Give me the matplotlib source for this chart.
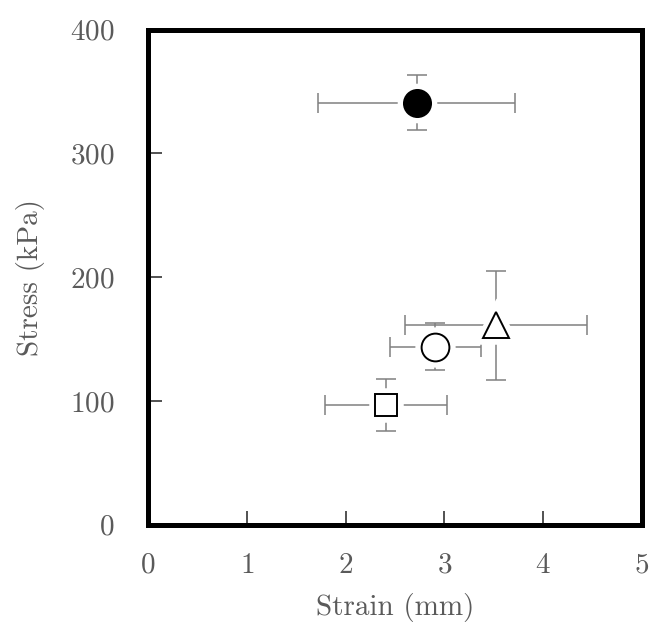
import matplotlib
matplotlib.use('Agg')
from matplotlib import pyplot as plt

# Values
strain = [2.72, 2.91, 3.52, 2.41]
stress = [341, 144, 161, 97]
strain_err = [1.0, 0.46, 0.92, 0.62]
stress_err = [22, 19, 44, 21]
markers = ['o', 'o', '^', 's']
faces = ['black', 'white', 'white', 'white']
sizes = [19.5, 20, 19, 16]

x_ticks = [0, 1, 2, 3, 4, 5]
y_ticks = [0, 100, 200, 300, 400]

plt.rcParams['font.family'] = 'serif'
plt.rcParams['font.serif'] = ['cmr10', 'DejaVu Serif']
plt.rcParams['axes.formatter.use_mathtext'] = True

text_grey = '#5a5a5a'
bar_grey = '#808080'

fig = plt.figure(figsize=(6.49, 6.30), dpi=100)
ax = fig.add_axes([0.228, 0.167, 0.761, 0.786])

for i in range(len(strain)):
    ax.errorbar(strain[i], stress[i], xerr=strain_err[i], yerr=stress_err[i],
                fmt='none', ecolor=bar_grey, elinewidth=1.1, capsize=7,
                capthick=1.1, zorder=1)
    # white halo so bars stop short of the marker
    ax.plot(strain[i], stress[i], marker=markers[i], ms=sizes[i],
            mfc='white', mec='white', mew=9, zorder=2)
    ax.plot(strain[i], stress[i], marker=markers[i], ms=sizes[i],
            mfc=faces[i], mec='black', mew=1.4, zorder=3)

ax.set_xlim(0, 5)
ax.set_ylim(0, 400)
ax.set_xticks(x_ticks)
ax.set_yticks(y_ticks)
ax.tick_params(direction='in', length=10, width=1.2, color='#333333',
               labelsize=21, labelcolor=text_grey, pad=24,
               top=False, right=False)
ax.tick_params(axis='x', pad=20)
for side in ax.spines.values():
    side.set_linewidth(3.6)
    side.set_color('black')

ax.set_xlabel('Strain (mm)', fontsize=21, color=text_grey, labelpad=10)
ax.set_ylabel('Stress (kPa)', fontsize=21, color=text_grey, labelpad=18)

plt.savefig('out.png', dpi=100)
